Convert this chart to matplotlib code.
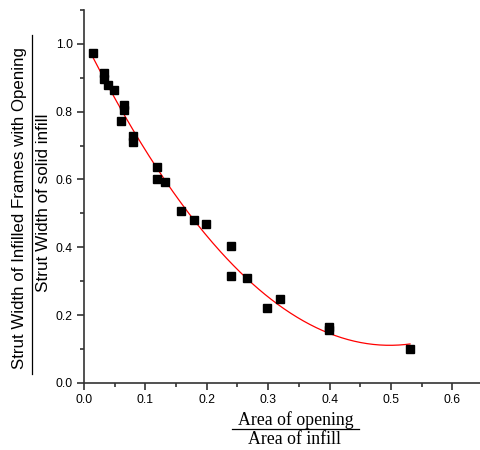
import numpy as np
import matplotlib.pyplot as plt
from matplotlib.ticker import MultipleLocator
from matplotlib.lines import Line2D

# Данные
area_ratio = [0.015, 0.033, 0.033, 0.039, 0.049, 0.065, 0.065, 0.060, 0.080, 0.080,
              0.119, 0.119, 0.132, 0.158, 0.179, 0.199, 0.239, 0.239, 0.266, 0.298,
              0.319, 0.399, 0.399, 0.531]
strut_ratio = [0.973, 0.915, 0.895, 0.879, 0.864, 0.820, 0.805, 0.773, 0.729, 0.711,
               0.637, 0.602, 0.593, 0.507, 0.480, 0.470, 0.405, 0.316, 0.310, 0.221,
               0.248, 0.165, 0.155, 0.100]

x = np.array(area_ratio)
y = np.array(strut_ratio)

# Квадратичная аппроксимация
coef = np.polyfit(x, y, 2)
xf = np.linspace(x.min(), x.max(), 200)
yf = np.polyval(coef, xf)

fig = plt.figure(figsize=(4.8, 4.5), dpi=100)
ax = fig.add_axes([0.175, 0.149, 0.825, 0.829])

ax.plot(xf, yf, color='red', lw=0.9, zorder=2)
ax.plot(x, y, 's', color='black', ms=5.4, zorder=3)

ax.set_xlim(0, 0.645)
ax.set_ylim(0, 1.1)
ax.xaxis.set_major_locator(MultipleLocator(0.1))
ax.xaxis.set_minor_locator(MultipleLocator(0.05))
ax.yaxis.set_major_locator(MultipleLocator(0.2))
ax.yaxis.set_minor_locator(MultipleLocator(0.1))
ax.xaxis.set_major_formatter(plt.FormatStrFormatter('%.1f'))
ax.yaxis.set_major_formatter(plt.FormatStrFormatter('%.1f'))

for s in ['top', 'right']:
    ax.spines[s].set_visible(False)
for s in ['left', 'bottom']:
    ax.spines[s].set_color('#333333')
    ax.spines[s].set_linewidth(1.2)

ax.tick_params(which='major', direction='out', length=5, width=1.2, color='#333333',
               labelsize=8.7, labelfontfamily='Liberation Sans', pad=3)
ax.tick_params(which='minor', direction='out', length=3, width=1.2, color='#333333')

# Подпись оси X в виде дроби
fig.text(296 / 480, 1 - 420 / 450, 'Area of opening', family='Liberation Serif',
         fontsize=12.8, ha='center', va='center')
fig.add_artist(Line2D([232 / 480, 359 / 480], [1 - 429 / 450, 1 - 429 / 450],
                      color='black', lw=0.9))
fig.text(294 / 480, 1 - 440 / 450, 'Area of infill', family='Liberation Serif',
         fontsize=12.8, ha='center', va='center')

# Подпись оси Y в виде дроби
fig.text(20 / 480, 1 - 208 / 450, 'Strut Width of Infilled Frames with Opening',
         family='Liberation Sans', fontsize=12.2, rotation=90, ha='center', va='center')
fig.add_artist(Line2D([32 / 480, 32 / 480], [1 - 374 / 450, 1 - 35 / 450],
                      color='black', lw=0.9))
fig.text(44 / 480, 1 - 203 / 450, 'Strut Width of solid infill',
         family='Liberation Sans', fontsize=12.3, rotation=90, ha='center', va='center')

fig.savefig('out.png', dpi=100)
